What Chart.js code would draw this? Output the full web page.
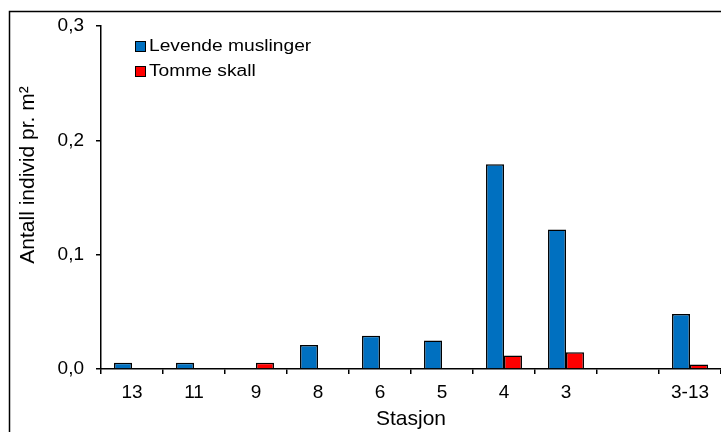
<!DOCTYPE html>
<html>
<head>
<meta charset="utf-8">
<script src="https://cdn.jsdelivr.net/npm/chart.js@4"></script>
<style>
  body { margin: 0; background: #fff; }
  #chart { display: block; }
</style>
</head>
<body>
<canvas id="chart" width="721" height="432"></canvas>
<script>
'use strict'

// stasjoner, fra venstre mot høyre
var stations = ['13', '11', '9', '8', '6', '5', '4', '3', '', '3-13'];
var living = [0.0055, 0.0055, 0, 0.021, 0.029, 0.025, 0.179, 0.122, null, 0.048];
var empty = [0, 0, 0.0055, 0, 0, 0, 0.0117, 0.0146, null, 0.004];
var yTicks = [0, 0.1, 0.2, 0.3];
var yTitle = 'Antall individ pr. m²';

var font = 'Liberation Sans, Arial, sans-serif';

//------------- frame around the whole figure ------------- //
var framePlugin = {
	id: 'frame',
	beforeDraw: function(chart) {
		var c = chart.ctx;
		c.save();
		c.strokeStyle = '#000';
		c.lineWidth = 1.5;
		c.strokeRect(9.5, 11.5, 800, 500);
		c.restore();
	}
};

//------------- y title, sits a bit above the middle ------------- //
var yTitlePlugin = {
	id: 'yTitle',
	afterDraw: function(chart) {
		var c = chart.ctx;
		c.save();
		c.translate(28, 175);
		c.rotate(-Math.PI / 2);
		c.font = '21px ' + font;
		c.fillStyle = '#000';
		c.textAlign = 'center';
		c.textBaseline = 'middle';
		c.fillText(yTitle, 0, 0);
		c.restore();
	}
};

//------------- legend stacked inside the plot ------------- //
var legendPlugin = {
	id: 'boxLegend',
	afterDraw: function(chart) {
		var c = chart.ctx;
		var x = chart.chartArea.left + 34;
		var y = chart.chartArea.top + 15;
		chart.data.datasets.forEach(function(ds, k) {
			var top = y + k * 25;
			c.save();
			c.fillStyle = ds.backgroundColor;
			c.fillRect(x, top, 11, 11);
			c.strokeStyle = '#000';
			c.lineWidth = 1;
			c.strokeRect(x + 0.5, top + 0.5, 10, 10);
			// text is a little wide in the original
			c.translate(x + 14, top + 6);
			c.scale(1.2, 1);
			c.font = '16px ' + font;
			c.textBaseline = 'middle';
			c.fillStyle = '#000';
			c.fillText(ds.label, 0, 0);
			c.restore();
		});
	}
};

window.onload = function() {
	var ctx = document.getElementById('chart').getContext('2d');

	var chart = new Chart(ctx, {
		type: 'bar',
		data: {
			labels: stations,
			datasets: [{
				label: 'Levende muslinger',
				data: living,
				backgroundColor: '#0070C0',
				borderColor: '#000',
				borderWidth: 1.5
			}, {
				label: 'Tomme skall',
				data: empty,
				backgroundColor: '#FF0000',
				borderColor: '#000',
				borderWidth: 1.5
			}]
		},
		options: {
			responsive: false,
			devicePixelRatio: 1,
			animation: false,
			layout: { padding: { top: 26, left: 0, right: 0, bottom: 0 } },
			plugins: {
				legend: { display: false },
				tooltip: { enabled: false }
			},
			datasets: {
				bar: { categoryPercentage: 0.58, barPercentage: 1 }
			},
			scales: {
				x: {
					grid: { offset: true, drawOnChartArea: false, tickLength: 5, color: '#000', lineWidth: 1.5 },
					border: { display: true, color: '#000', width: 1.5 },
					ticks: { color: '#000', font: { family: font, size: 19 }, padding: 7, maxRotation: 0, autoSkip: false },
					title: { display: true, text: 'Stasjon', color: '#000', font: { family: font, size: 21 }, padding: { top: 0, bottom: 0 } },
					afterFit: function(scale) { scale.height = 63; }
				},
				y: {
					min: 0,
					max: 0.3,
					afterBuildTicks: function(scale) {
						scale.ticks = yTicks.map(function(v) { return { value: v }; });
					},
					grid: { drawOnChartArea: false, tickLength: 5, color: '#000', lineWidth: 1.5 },
					border: { display: true, color: '#000', width: 1.5 },
					ticks: {
						color: '#000',
						font: { family: font, size: 19 },
						padding: 12,
						callback: function(v) { return v.toFixed(1).replace('.', ','); }
					},
					afterFit: function(scale) { scale.width = 101; }
				}
			}
		},
		plugins: [framePlugin, yTitlePlugin, legendPlugin]
	});
};
</script>
</body>
</html>
